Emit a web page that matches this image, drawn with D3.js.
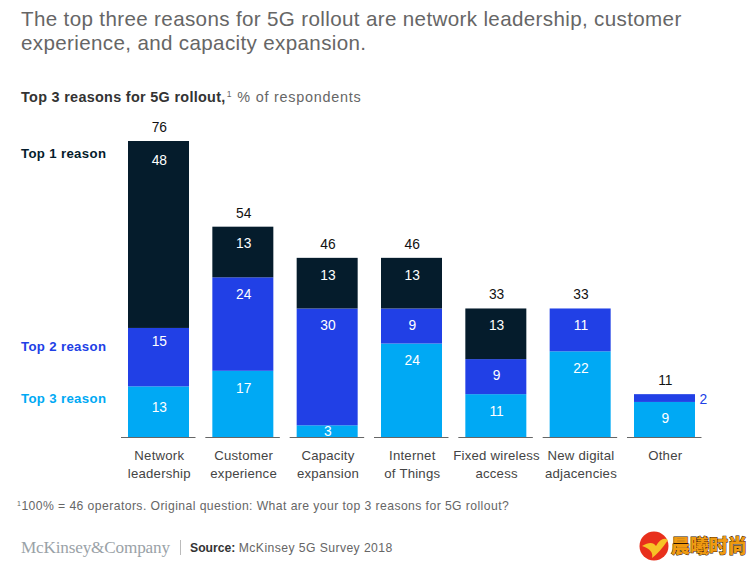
<!DOCTYPE html>
<html><head><meta charset="utf-8">
<script src="https://cdn.jsdelivr.net/npm/d3@7"></script>
<style>
html,body{margin:0;padding:0;background:#fff}
svg{display:block}
text{font-family:"Liberation Sans",Arial,sans-serif}
</style></head><body>
<svg id="c" width="749" height="570"></svg>
<script>
const categories=[["Network","leadership"],["Customer","experience"],["Capacity","expansion"],["Internet","of Things"],["Fixed wireless","access"],["New digital","adjacencies"],["Other"]];
const top3=[13,17,3,24,11,22,9];
const top2=[15,24,30,9,9,11,2];
const top1=[48,13,13,13,13,0,0];
const totals=[76,54,46,46,33,33,11];
const seriesNames=["Top 3 reason","Top 2 reason","Top 1 reason"];
const seriesColors=["#00a9f4","#2140e6","#051c2c"];
const titleLines=["The top three reasons for 5G rollout are network leadership, customer","experience, and capacity expansion."];
const footnote="100% = 46 operators. Original question: What are your top 3 reasons for 5G rollout?";

const svg=d3.select("#c");
const x=d3.scaleBand().domain(d3.range(categories.length)).range([116.2,706.8]).paddingInner(0.2767).paddingOuter(0.14);
const y=d3.scaleLinear().domain([0,76]).range([437,141]);
const rows=categories.map((c,i)=>({i,"Top 3 reason":top3[i],"Top 2 reason":top2[i],"Top 1 reason":top1[i]}));
const stack=d3.stack().keys(seriesNames)(rows);
const labelX=i=>x(i)+x.bandwidth()/2+0.8;

// title
svg.append("g").selectAll("text").data(titleLines).join("text")
  .attr("x",21).attr("y",(d,i)=>26+i*24).attr("font-size",20.6).attr("letter-spacing",0.35).attr("fill","#666").text(d=>d);

// subtitle
const sub=svg.append("text").attr("x",21).attr("y",102).attr("font-size",14.4).attr("fill","#666");
sub.append("tspan").attr("font-weight","bold").attr("fill","#333").attr("letter-spacing",0.31).text("Top 3 reasons for 5G rollout,");
sub.append("tspan").attr("font-size",8.5).attr("dy",-5).attr("dx",1).text("1");
sub.append("tspan").attr("dy",5).attr("dx",6).attr("letter-spacing",0.75).text("% of respondents");

// bars
const layer=svg.selectAll("g.layer").data(stack).join("g").attr("class","layer")
  .attr("fill",(d,i)=>seriesColors[i]);
layer.selectAll("rect").data(d=>d.filter(s=>s[1]>s[0])).join("rect")
  .attr("x",d=>x(d.data.i)).attr("width",x.bandwidth())
  .attr("y",d=>y(d[1])).attr("height",d=>y(d[0])-y(d[1]));

// segment labels: near the top of each segment, as in the reference
const nudge=(d)=>{const v=d[1]-d[0];
  if(d.data.i===0&&v===13)return 4; if(d.data.i===0&&v===15)return -4; if(v===48)return 2; return 0;};
layer.selectAll("text").data(d=>d.filter(s=>s[1]-s[0]>2)).join("text")
  .attr("x",d=>labelX(d.data.i))
  .attr("y",d=>{const h=y(d[0])-y(d[1]);return h<14?y(d[0])-1.5:y(d[1])+Math.min(h/2-1,17)+4.8+nudge(d);})
  .attr("text-anchor","middle").attr("font-size",13.8).attr("fill","#fff")
  .text(d=>d[1]-d[0]);

// totals
svg.append("g").selectAll("text").data(totals).join("text")
  .attr("x",(d,i)=>labelX(i)).attr("y",d=>y(d)-9)
  .attr("text-anchor","middle").attr("font-size",13.8).attr("fill","#111").text(d=>d);

// small outside label
svg.append("text").attr("x",x(6)+x.bandwidth()+4.5).attr("y",y(11)+9.5)
  .attr("font-size",13.8).attr("fill","#2140e6").text(top2[6]);

// baseline segments
svg.append("g").selectAll("line").data(d3.range(categories.length)).join("line")
  .attr("x1",i=>x(i)-7).attr("x2",i=>x(i)+x.bandwidth()+6.5)
  .attr("y1",437.5).attr("y2",437.5).attr("stroke","#666").attr("stroke-width",1);

// category labels
const cat=svg.append("g").selectAll("text").data(categories).join("text")
  .attr("text-anchor","middle").attr("font-size",13.2).attr("letter-spacing",0.22).attr("fill","#444");
cat.selectAll("tspan").data((d,i)=>d.map((t,j)=>({t,j,i}))).join("tspan")
  .attr("x",d=>labelX(d.i)).attr("y",d=>460+d.j*17.5).text(d=>d.t);

// legend labels
const legendY={"Top 1 reason":158,"Top 2 reason":351,"Top 3 reason":403};
svg.append("g").selectAll("text").data(seriesNames).join("text")
  .attr("x",21).attr("y",d=>legendY[d]).attr("font-size",13.2).attr("font-weight","bold").attr("letter-spacing",0.35)
  .attr("fill",(d,i)=>seriesColors[i]).text(d=>d);

// footnote
const fn=svg.append("text").attr("x",17).attr("y",510).attr("font-size",12.2).attr("fill","#666");
fn.append("tspan").attr("font-size",7).attr("dy",-4).text("1");
fn.append("tspan").attr("dy",4).attr("dx",0.5).attr("letter-spacing",0.42).text(footnote);

// footer
svg.append("text").attr("x",21).attr("y",553).attr("font-size",17.2)
  .style("font-family","'Liberation Serif',serif").attr("fill","#9aa2a7").attr("textLength",149).text("McKinsey&Company");
svg.append("line").attr("x1",180.5).attr("x2",180.5).attr("y1",540).attr("y2",555).attr("stroke","#bbb");
const src=svg.append("text").attr("x",190).attr("y",552).attr("font-size",12.2).attr("fill","#666");
src.append("tspan").attr("font-weight","bold").attr("fill","#333").text("Source: ");
src.append("tspan").attr("letter-spacing",0.42).text("McKinsey 5G Survey 2018");

// watermark
const wm=svg.append("g");
wm.append("circle").attr("cx",654).attr("cy",546).attr("r",14.5).attr("fill","#e8301c");
wm.append("path").attr("d","M642 546 Q652 540 656 546 Q662 536 668 540 Q660 552 652 558 Q654 550 642 546Z").attr("fill","#f7c326");
wm.append("text").attr("x",671).attr("y",553).attr("font-size",19)
  .style("font-family","'Noto Sans CJK SC'").attr("font-weight","900").attr("fill","#f09a10")
  .attr("stroke","#2a1200").attr("stroke-width",0.9).attr("paint-order","stroke").text("晨曦时尚");
</script>
</body></html>
